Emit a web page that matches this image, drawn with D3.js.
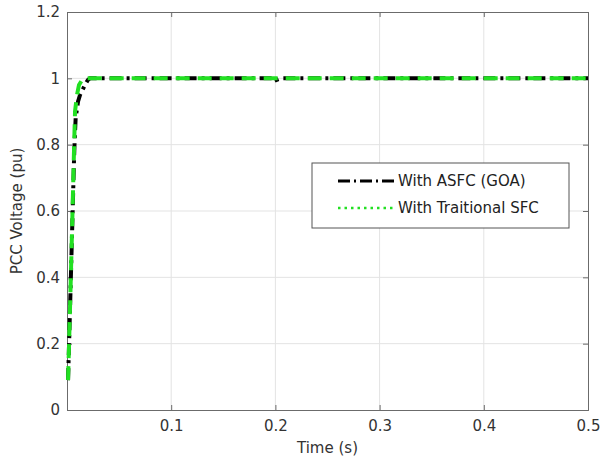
<!DOCTYPE html>
<html>
<head>
<meta charset="utf-8">
<script src="https://cdn.jsdelivr.net/npm/d3@7"></script>
<style>
  body { margin: 0; background: #fff; }
  svg { font-family: "DejaVu Sans", "Liberation Sans", Arial, sans-serif; }
</style>
</head>
<body>
<svg id="chart" width="602" height="461"></svg>
<script>
// PCC voltage response over time (s, pu)
const timeAsfc = [0.001, 0.002, 0.005, 0.0067, 0.0072, 0.0083, 0.0106, 0.0125, 0.0173, 0.02, 0.022, 0.2, 0.201, 0.205, 0.5];
const voltAsfc = [0.09, 0.2, 0.55, 0.75, 0.8, 0.88, 0.93, 0.95, 0.98, 0.995, 1.0, 1.0, 0.995, 1.0, 1.0];
const timeSfc = [0.001, 0.002, 0.005, 0.0067, 0.0077, 0.0096, 0.0115, 0.0154, 0.5];
const voltSfc = [0.09, 0.2, 0.56, 0.78, 0.9, 0.95, 0.98, 1.0, 1.0];
const xTicks = [0.1, 0.2, 0.3, 0.4, 0.5];
const yTicks = [0, 0.2, 0.4, 0.6, 0.8, 1, 1.2];
const seriesNames = ["With ASFC (GOA)", "With Traitional SFC"];

const svg = d3.select("#chart");
const pLeft = 67, pRight = 588, pTop = 12, pBottom = 410;
const x = d3.scaleLinear().domain([0, 0.5]).range([pLeft, pRight]);
const y = d3.scaleLinear().domain([0, 1.2]).range([pBottom, pTop]);

// grid
svg.append("g").selectAll("line").data(xTicks.slice(0, -1)).join("line")
  .attr("x1", d => x(d)).attr("x2", d => x(d)).attr("y1", pTop).attr("y2", pBottom)
  .attr("stroke", "#e3e3e3").attr("stroke-width", 1);
svg.append("g").selectAll("line").data(yTicks.slice(1, -1)).join("line")
  .attr("x1", pLeft).attr("x2", pRight).attr("y1", d => y(d)).attr("y2", d => y(d))
  .attr("stroke", "#e3e3e3").attr("stroke-width", 1);

// axes
const fmt = d => d3.format("")(+d.toFixed(1));
svg.append("g").attr("transform", `translate(0,${pBottom})`)
  .call(d3.axisBottom(x).tickValues(xTicks).tickSize(-5).tickPadding(10).tickFormat(fmt));
svg.append("g").attr("transform", `translate(${pLeft},0)`)
  .call(d3.axisLeft(y).tickValues(yTicks).tickSize(-5).tickPadding(7).tickFormat(fmt));
svg.append("g").attr("transform", `translate(0,${pTop})`)
  .call(d3.axisTop(x).tickValues(xTicks).tickSize(-5).tickFormat(""));
svg.append("g").attr("transform", `translate(${pRight},0)`)
  .call(d3.axisRight(y).tickValues(yTicks).tickSize(-5).tickFormat(""));
svg.selectAll(".domain").attr("stroke", "#6b6b6b");
svg.selectAll(".tick line").attr("stroke", "#6b6b6b");
svg.selectAll(".tick text").attr("fill", "#333").attr("font-size", 15)
  .attr("font-family", "DejaVu Sans, sans-serif");

// axis titles
svg.append("text").attr("x", (pLeft + pRight) / 2).attr("y", 453).attr("text-anchor", "middle")
  .attr("font-size", 15).attr("fill", "#333").text("Time (s)");
svg.append("text").attr("transform", `translate(22,${(pTop + pBottom) / 2}) rotate(-90)`)
  .attr("text-anchor", "middle").attr("font-size", 15).attr("fill", "#333").text("PCC Voltage (pu)");

// curves
const line = d3.line().x(d => x(d[0])).y(d => y(d[1]));
const plot = svg.append("g");
plot.append("path").datum(d3.zip(timeAsfc, voltAsfc)).attr("d", line)
  .attr("fill", "none").attr("stroke", "#000").attr("stroke-width", 4)
  .attr("stroke-dasharray", "12,5,3,5");
plot.append("path").datum(d3.zip(timeSfc, voltSfc)).attr("d", line)
  .attr("fill", "none").attr("stroke", "#22e022").attr("stroke-width", 4)
  .attr("stroke-dasharray", "14,8");

// legend
const lg = svg.append("g");
lg.append("rect").attr("x", 312).attr("y", 163).attr("width", 257).attr("height", 65)
  .attr("fill", "#fff").attr("stroke", "#555").attr("stroke-width", 1);
lg.append("line").attr("x1", 338).attr("x2", 394).attr("y1", 181).attr("y2", 181)
  .attr("stroke", "#000").attr("stroke-width", 3).attr("stroke-dasharray", "12,4,2,4");
lg.append("line").attr("x1", 338).attr("x2", 394).attr("y1", 208).attr("y2", 208)
  .attr("stroke", "#22e022").attr("stroke-width", 2.5).attr("stroke-dasharray", "2.5,4");
lg.selectAll("text").data(seriesNames).join("text")
  .attr("x", 398).attr("y", (d, i) => 186 + i * 27).attr("font-size", 15).attr("fill", "#222").text(d => d);
</script>
</body>
</html>
